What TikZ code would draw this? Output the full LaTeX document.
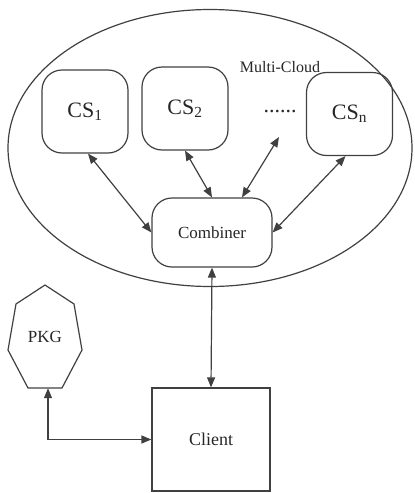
\documentclass[tikz,border=0pt]{standalone}
\usepackage{fontspec}
\setmainfont{Liberation Serif}
\usetikzlibrary{arrows.meta,shapes.geometric}
\begin{document}
\begin{tikzpicture}[x=1pt,y=-1pt,
  ln/.style={draw=black!75,line width=1.2pt},
  arr/.style={ln,{Triangle[length=10pt,width=8pt]}-{Triangle[length=10pt,width=8pt]}},
  csbox/.style={ln,rounded corners=20pt,minimum width=86pt,minimum height=83pt,inner sep=0pt,font=\fontsize{22}{24}\selectfont,text=black!85},
  lbl/.style={inner sep=0pt,text=black!85}]
\useasboundingbox (0,0) rectangle (415,493);
\node[ln,ellipse,minimum width=404pt,minimum height=277pt,inner sep=0pt] (cloud) at (210,148) {};
\node[lbl,font=\fontsize{16}{18}\selectfont] (mc) at (280,67) {Multi-Cloud};
\node[csbox] (cs1) at (85,111.5) {CS\textsubscript{1}};
\node[csbox] (cs2) at (185,108.5) {CS\textsubscript{2}};
\node[csbox] (csn) at (349.5,114) {CS\textsubscript{n}};
\node[lbl,font=\fontsize{22}{24}\selectfont] (dots) at (280,112) {......};
\coordinate (dotsend) at (279,137);
\node[ln,rounded corners=20pt,minimum width=120pt,minimum height=69pt,inner sep=0pt,font=\fontsize{17}{19}\selectfont,text=black!85] (comb) at (212,232.5) {Combiner};
\node[ln,minimum width=118pt,minimum height=103pt,inner sep=0pt,font=\fontsize{18}{20}\selectfont,text=black!85] (client) at (211,439.5) {Client};
\draw[ln] (45,285) -- (74,304) -- (82,350) -- (62,388) -- (28,388) -- (8,350) -- (16,304) -- cycle;
\node[lbl,minimum width=74pt,minimum height=103pt,font=\fontsize{17}{19}\selectfont] (pkg) at (45,336.5) {PKG};
\draw[arr] ([xshift=3pt]cs1.south) -- (comb.west);
\draw[arr] (cs2.south) -- (comb.north);
\draw[arr] (dotsend) -- ([xshift=30pt]comb.north);
\draw[arr] ([xshift=-4pt]csn.south) -- (comb.east);
\draw[arr] (comb.south) -- (client.north);
\draw[arr] ([xshift=3pt]pkg.south) |- (client.west);
\end{tikzpicture}
\end{document}
